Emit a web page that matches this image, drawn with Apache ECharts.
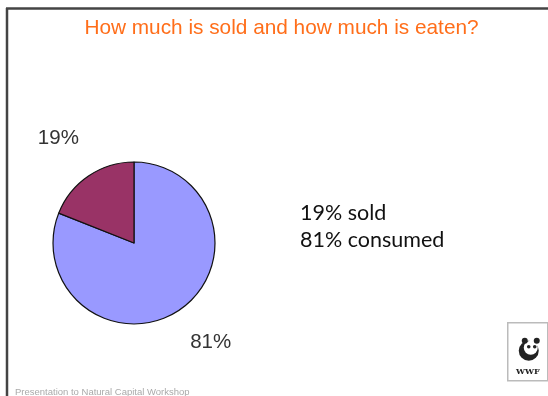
<!DOCTYPE html>
<html>
<head>
<meta charset="utf-8">
<script src="https://cdn.jsdelivr.net/npm/echarts@6/dist/echarts.min.js"></script>
<style>
html,body{margin:0;padding:0;background:#fff;}
#c{width:548px;height:396px;}
</style>
</head>
<body>
<div id="c"></div>
<script>
var categories = ['consumed', 'sold'];
var values = [81, 19];
var colors = ['#9999FF', '#993366'];
var titleText = 'How much is sold and how much is eaten?';
var noteLines = ['19% sold', '81% consumed'];
var footerText = 'Presentation to Natural Capital Workshop';

var chart = echarts.init(document.getElementById('c'), null, {renderer: 'canvas'});
var data = categories.map(function (c, i) {
  return {name: c, value: values[i], itemStyle: {color: colors[i]}};
});
var labelShift = [{dx: -18, dy: -2}, {dx: 19, dy: -2.5}];
chart.setOption({
  backgroundColor: '#ffffff',
  animation: false,
  series: [{
    type: 'pie',
    center: [134, 243],
    radius: 81,
    startAngle: 90,
    clockwise: true,
    data: data,
    itemStyle: {borderColor: '#111', borderWidth: 1.2},
    label: {
      show: true,
      position: 'outside',
      formatter: '{c}%',
      color: '#333',
      fontFamily: 'Liberation Sans',
      fontSize: 20.5
    },
    labelLine: {show: false, length: 42, length2: 0},
    labelLayout: function (p) { return labelShift[p.dataIndex]; },
    emphasis: {disabled: true}
  }],
  graphic: [
    {type: 'text', x: 281.5, y: 28, style: {text: titleText, font: '20.8px "Liberation Sans"', fill: '#FF6E1A', align: 'center', verticalAlign: 'middle'}},
    {type: 'line', shape: {x1: 6, y1: 8.5, x2: 548, y2: 8.5}, style: {stroke: '#444', lineWidth: 2.5}},
    {type: 'line', shape: {x1: 7, y1: 8, x2: 7, y2: 396}, style: {stroke: '#444', lineWidth: 2.5}},
    {type: 'text', left: 300, top: 200, style: {text: noteLines.join('\n'), font: '21.5px Lato', fill: '#111', lineHeight: 26.7}},
    {type: 'text', left: 15, top: 387, style: {text: footerText, font: '9.5px "Liberation Sans"', fill: '#aaa'}},
    {type: 'group', left: 507, top: 322, children: [
      {type: 'rect', shape: {x: 0, y: 0, width: 40, height: 58}, style: {fill: '#fff', stroke: '#bbb', lineWidth: 1.5}},
      {type: 'circle', shape: {cx: 21, cy: 28, r: 10}, style: {fill: '#222'}},
      {type: 'circle', shape: {cx: 23, cy: 25, r: 7}, style: {fill: '#fff'}},
      {type: 'circle', shape: {cx: 21, cy: 24, r: 1.8}, style: {fill: '#222'}},
      {type: 'circle', shape: {cx: 27, cy: 24, r: 1.8}, style: {fill: '#222'}},
      {type: 'circle', shape: {cx: 17, cy: 18, r: 3}, style: {fill: '#222'}},
      {type: 'circle', shape: {cx: 29, cy: 18, r: 3}, style: {fill: '#222'}},
      {type: 'text', x: 20, y: 49, style: {text: 'WWF', font: 'bold 8px "DejaVu Serif"', fill: '#222', align: 'center', verticalAlign: 'middle'}}
    ]}
  ]
});
</script>
</body>
</html>
